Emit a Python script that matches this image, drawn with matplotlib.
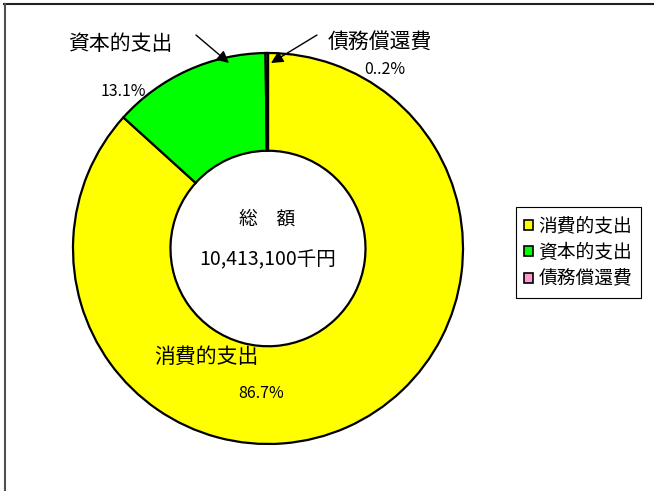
import matplotlib
matplotlib.use('Agg')
import matplotlib.pyplot as plt
from matplotlib.patches import Patch, FancyArrowPatch
from matplotlib.lines import Line2D

plt.rcParams['font.family'] = ['Noto Sans CJK JP', 'DejaVu Sans']

# data
categories = ['消費的支出', '資本的支出', '債務償還費']
shares = [86.7, 13.1, 0.2]
share_labels = ['86.7%', '13.1%', '0..2%']
colors = ['#FFFF00', '#00FF00', '#FF99CC']
total_label = '10,413,100千円'

W, H = 654, 491
fig = plt.figure(figsize=(W / 100, H / 100), dpi=100)


def fx(px):
    return px / W


def fy(py):
    return 1 - py / H


# axes box = bounding box of the ring
ax = fig.add_axes([fx(73), fy(444), fx(463) - fx(73), fy(53) - fy(444)])
ax.pie(shares, colors=colors, startangle=90, counterclock=False,
       wedgeprops=dict(width=0.5, edgecolor='black', linewidth=1.6))
ax.set_aspect('auto')
ax.set_xlim(-1, 1)
ax.set_ylim(-1, 1)
ax.axis('off')

# outer labels
fig.text(fx(120), fy(44), categories[1], fontsize=15, ha='center', va='center')
fig.text(fx(123), fy(92), share_labels[1], fontsize=11.5, ha='center', va='center')
fig.text(fx(380), fy(42), categories[2], fontsize=15, ha='center', va='center')
fig.text(fx(385), fy(70), share_labels[2], fontsize=11.5, ha='center', va='center')
fig.text(fx(206), fy(357), categories[0], fontsize=15, ha='center', va='center')
fig.text(fx(261), fy(393), share_labels[0], fontsize=11.5, ha='center', va='center')

# centre text
fig.text(fx(267), fy(219), '総　額', fontsize=13.5, ha='center', va='center')
fig.text(fx(268), fy(260), total_label, fontsize=14, ha='center', va='center')

# arrows
arrow = dict(arrowstyle='-|>', color='black', lw=1, mutation_scale=18, shrinkA=0, shrinkB=0)
fig.add_artist(FancyArrowPatch((fx(196), fy(35)), (fx(229), fy(63)),
                               transform=fig.transFigure, **arrow))
fig.add_artist(FancyArrowPatch((fx(317), fy(35)), (fx(271), fy(63)),
                               transform=fig.transFigure, **arrow))

# legend
handles = [Patch(facecolor=c, edgecolor='black', linewidth=1.2) for c in colors]
leg = fig.legend(handles, categories, loc='upper left',
                 bbox_to_anchor=(fx(516), fy(207)), fontsize=13.5,
                 frameon=True, fancybox=False, edgecolor='black', framealpha=1,
                 handlelength=0.45, handleheight=0.45, handletextpad=0.3,
                 borderpad=0.45, labelspacing=0.3, borderaxespad=0)
leg.get_frame().set_linewidth(0.8)

# chart area border (top and left visible)
fig.add_artist(Line2D([fx(4), 1], [fy(4), fy(4)], color='#202020', lw=1.5))
fig.add_artist(Line2D([fx(5), fx(5)], [fy(4), 0], color='#505050', lw=1.5))

fig.savefig('out.png', dpi=100)
